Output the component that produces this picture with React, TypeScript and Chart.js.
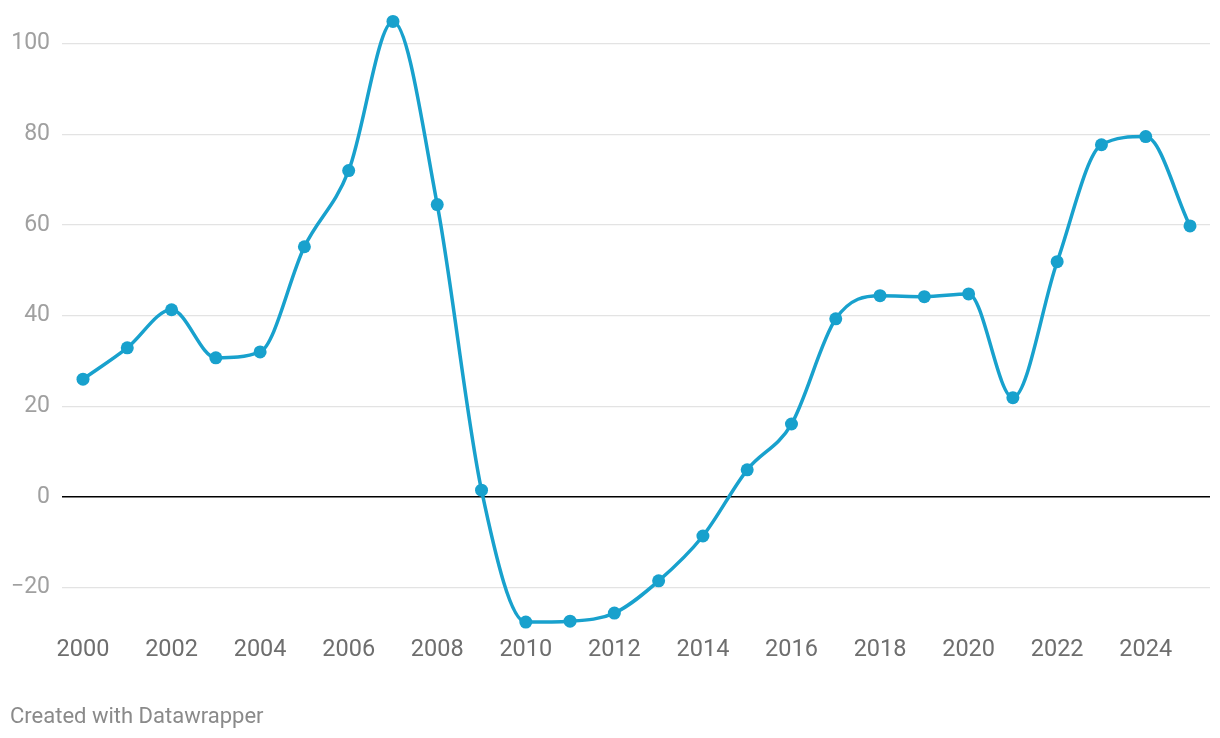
import React, { useEffect, useRef } from "react";
import { Chart, registerables } from "chart.js";

Chart.register(...registerables);

const years = [2000, 2001, 2002, 2003, 2004, 2005, 2006, 2007, 2008, 2009, 2010, 2011, 2012, 2013, 2014, 2015, 2016, 2017, 2018, 2019, 2020, 2021, 2022, 2023, 2024, 2025];
const values = [26.0, 32.9, 41.3, 30.7, 32.0, 55.2, 72.0, 104.9, 64.5, 1.5, -27.6, -27.4, -25.6, -18.5, -8.6, 6.0, 16.1, 39.3, 44.4, 44.2, 44.8, 21.9, 51.9, 77.7, 79.5, 59.8];
const xTicks = [2000, 2002, 2004, 2006, 2008, 2010, 2012, 2014, 2016, 2018, 2020, 2022, 2024];
const yTicks = [-20, 0, 20, 40, 60, 80, 100];
const footer = "Created with Datawrapper";

export default function App() {
  const ref = useRef<HTMLCanvasElement | null>(null);
  useEffect(() => {
    document.body.style.margin = "0";
    const ctx = ref.current!;
    const chart = new Chart(ctx, {
      type: "line",
      data: {
        datasets: [
          {
            data: years.map((y, i) => ({ x: y, y: values[i] })),
            borderColor: "#18a1cd",
            backgroundColor: "#18a1cd",
            borderWidth: 3.5,
            pointRadius: 6.5,
            pointBorderWidth: 0,
            pointHoverRadius: 6.5,
            cubicInterpolationMode: "monotone",
            clip: false as any,
          },
        ],
      },
      options: {
        animation: false,
        responsive: false,
        maintainAspectRatio: false,
        layout: { padding: { left: 0, right: 10, top: 21, bottom: 65 } },
        plugins: { legend: { display: false }, tooltip: { enabled: false } },
        scales: {
          x: {
            type: "linear",
            min: 2000 - 21 / 44.28,
            max: 2025 + 20 / 44.28,
            afterBuildTicks: (s: any) => {
              s.ticks = xTicks.map((v) => ({ value: v }));
            },
            afterFit: (s: any) => {
              s.height = 40;
              s.paddingLeft = 0;
              s.paddingRight = 0;
            },
            grid: { display: false, drawTicks: false },
            border: { display: false },
            ticks: {
              autoSkip: false,
              maxRotation: 0,
              padding: 3,
              color: "#6e6e6e",
              font: { family: "Roboto", size: 23.5 },
              callback: (v: any) => String(v),
            },
          },
          y: {
            min: -30,
            max: 105,
            afterBuildTicks: (s: any) => {
              s.ticks = yTicks.map((v) => ({ value: v }));
            },
            afterFit: (s: any) => {
              s.width = 62;
              s.paddingTop = 0;
              s.paddingBottom = 0;
            },
            grid: {
              drawTicks: false,
              color: (c: any) => (c.tick && c.tick.value === 0 ? "#000000" : "#e3e3e3"),
              lineWidth: (c: any) => (c.tick && c.tick.value === 0 ? 1.5 : 1.2),
            },
            border: { display: false },
            ticks: {
              padding: 12,
              color: "#a0a0a0",
              font: { family: "Roboto", size: 23 },
              callback: (v: any) => (v < 0 ? "\u2212" + Math.abs(v) : String(v)),
            },
          },
        },
      },
    });
    return () => chart.destroy();
  }, []);
  return (
    <div style={{ position: "relative", width: 1220, height: 738, background: "#fff" }}>
      <canvas ref={ref} width={1220} height={738} style={{ display: "block" }} />
      <div
        style={{
          position: "absolute",
          left: 10,
          top: 703,
          fontFamily: "Roboto",
          fontSize: 22,
          color: "#8a8a8a",
          whiteSpace: "nowrap",
        }}
      >
        {footer}
      </div>
    </div>
  );
}
